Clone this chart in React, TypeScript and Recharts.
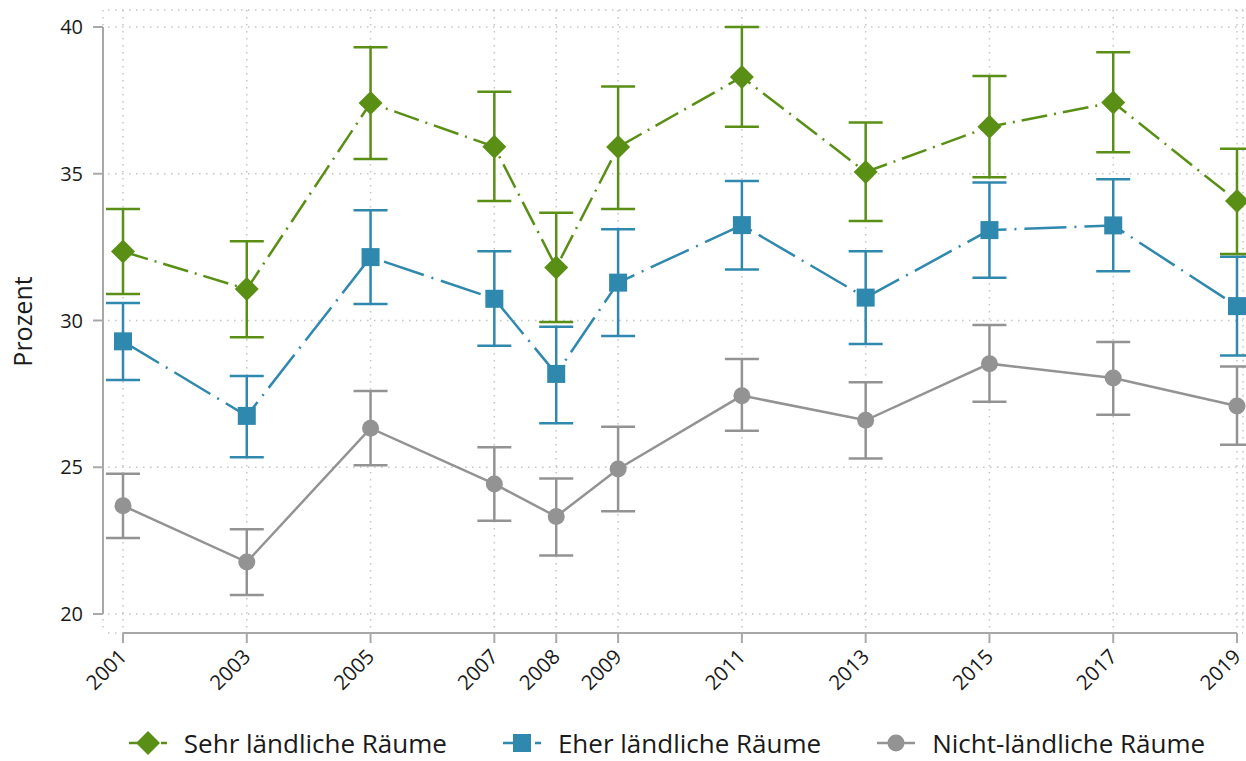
import React from "react";
import { CartesianGrid, ErrorBar, Line, LineChart, XAxis, YAxis } from "recharts";

const years = [2001, 2003, 2005, 2007, 2008, 2009, 2011, 2013, 2015, 2017, 2019];
const yTicks = [20, 25, 30, 35, 40];

// Sehr ländliche Räume
const sehr = [32.35, 31.07, 37.41, 35.92, 31.81, 35.91, 38.3, 35.06, 36.6, 37.43, 34.07];
const sehrLo = [30.9, 29.43, 35.5, 34.07, 29.95, 33.8, 36.6, 33.39, 34.88, 35.73, 32.27];
const sehrHi = [33.8, 32.7, 39.31, 37.79, 33.67, 37.97, 40.0, 36.75, 38.33, 39.14, 35.85];

// Eher ländliche Räume
const eher = [29.29, 26.75, 32.16, 30.74, 28.18, 31.29, 33.25, 30.78, 33.08, 33.24, 30.49];
const eherLo = [27.97, 25.34, 30.56, 29.14, 26.5, 29.47, 31.74, 29.2, 31.46, 31.68, 28.81];
const eherHi = [30.6, 28.11, 33.76, 32.36, 29.79, 33.11, 34.75, 32.36, 34.7, 34.81, 32.17];

// Nicht-ländliche Räume
const nicht = [23.69, 21.77, 26.33, 24.43, 23.32, 24.94, 27.44, 26.6, 28.53, 28.04, 27.09];
const nichtLo = [22.59, 20.65, 25.07, 23.18, 21.99, 23.5, 26.24, 25.3, 27.23, 26.79, 25.77];
const nichtHi = [24.78, 22.89, 27.6, 25.68, 24.62, 26.38, 28.69, 27.9, 29.85, 29.27, 28.43];

const GREEN = "#5a8f16";
const BLUE = "#2f88ae";
const GRAY = "#939393";
const AXIS = "#a8a8a8";
const FONT = "'Open Sans', sans-serif";

const data = years.map((year, i) => ({
  year,
  sehr: sehr[i],
  sehrErr: [sehr[i] - sehrLo[i], sehrHi[i] - sehr[i]],
  eher: eher[i],
  eherErr: [eher[i] - eherLo[i], eherHi[i] - eher[i]],
  nicht: nicht[i],
  nichtErr: [nicht[i] - nichtLo[i], nichtHi[i] - nicht[i]],
}));

const Diamond = ({ cx, cy, fill }: any) => (
  <polygon points={`${cx},${cy - 12} ${cx + 12},${cy} ${cx},${cy + 12} ${cx - 12},${cy}`} fill={fill} />
);
const Square = ({ cx, cy, fill }: any) => <rect x={cx - 9} y={cy - 9} width={18} height={18} fill={fill} />;
const Circle = ({ cx, cy, fill }: any) => <circle cx={cx} cy={cy} r={8.5} fill={fill} />;

const XTick = ({ x, y, payload }: any) => (
  <text
    x={x + 5}
    y={y + 15}
    transform={`rotate(-45, ${x + 5}, ${y + 15})`}
    textAnchor="end"
    fontSize={20.5}
    fontFamily={FONT}
    fill="#1a1a1a"
  >
    {payload.value}
  </text>
);

const YLabel = ({ viewBox }: any) => {
  const x = 22;
  const y = viewBox.y + viewBox.height / 2;
  return (
    <text
      x={x}
      y={y}
      transform={`rotate(-90, ${x}, ${y})`}
      textAnchor="middle"
      dominantBaseline="central"
      fontSize={25}
      fontFamily={FONT}
      fill="#1a1a1a"
    >
      Prozent
    </text>
  );
};

const legendItems = [
  { name: "Sehr ländliche Räume", color: GREEN, dash: true, shape: "diamond" },
  { name: "Eher ländliche Räume", color: BLUE, dash: true, shape: "square" },
  { name: "Nicht-ländliche Räume", color: GRAY, dash: false, shape: "circle" },
];

function LegendIcon({ color, dash, shape }: any) {
  return (
    <svg width={38} height={24}>
      <line x1={0} y1={12} x2={38} y2={12} stroke={color} strokeWidth={2.5} strokeDasharray={dash ? "22 4 2 4" : undefined} />
      {shape === "diamond" && <Diamond cx={19} cy={12} fill={color} />}
      {shape === "square" && <Square cx={19} cy={12} fill={color} />}
      {shape === "circle" && <Circle cx={19} cy={12} fill={color} />}
    </svg>
  );
}

export default function App() {
  return (
    <div
      style={{
        position: "absolute",
        top: 0,
        left: 0,
        width: 1246,
        height: 761,
        background: "#fff",
        fontFamily: FONT,
      }}
    >
      <LineChart width={1246} height={761} data={data} margin={{ top: 10, right: 3, left: 0, bottom: 68 }}>
        <CartesianGrid x={108} width={1135} stroke="#c4c4c4" strokeWidth={1.5} strokeDasharray="1.5 5.5" />
        <XAxis
          dataKey="year"
          type="number"
          domain={[2001, 2019]}
          ticks={years}
          interval={0}
          padding={{ left: 20, right: 6 }}
          height={60}
          axisLine={{ stroke: AXIS, strokeWidth: 2, strokeDasharray: "0 20 1114 1000" }}
          tickLine={{ stroke: AXIS, strokeWidth: 2 }}
          tickSize={10}
          tickMargin={0}
          tick={<XTick />}
        />
        <YAxis
          type="number"
          domain={[20, 40]}
          ticks={yTicks}
          width={103}
          padding={{ top: 17, bottom: 19 }}
          axisLine={{ stroke: AXIS, strokeWidth: 2, strokeDasharray: "0 17 587 1000" }}
          tickLine={{ stroke: AXIS, strokeWidth: 2 }}
          tickSize={10}
          tickMargin={10}
          tick={{ fontSize: 20, fill: "#1a1a1a", fontFamily: FONT }}
          label={<YLabel />}
        />
        <Line
          dataKey="nicht"
          stroke={GRAY}
          strokeWidth={2.5}
          isAnimationActive={false}
          dot={(p: any) => <Circle key={p.index} cx={p.cx} cy={p.cy} fill={GRAY} />}
          activeDot={false}
        >
          <ErrorBar dataKey="nichtErr" direction="y" width={17} stroke={GRAY} strokeWidth={2.5} isAnimationActive={false} />
        </Line>
        <Line
          dataKey="eher"
          stroke={BLUE}
          strokeWidth={2.5}
          strokeDasharray="42 8 2 8"
          isAnimationActive={false}
          dot={(p: any) => <Square key={p.index} cx={p.cx} cy={p.cy} fill={BLUE} />}
          activeDot={false}
        >
          <ErrorBar dataKey="eherErr" direction="y" width={17} stroke={BLUE} strokeWidth={2.5} isAnimationActive={false} />
        </Line>
        <Line
          dataKey="sehr"
          stroke={GREEN}
          strokeWidth={2.5}
          strokeDasharray="26 7 2 7"
          isAnimationActive={false}
          dot={(p: any) => <Diamond key={p.index} cx={p.cx} cy={p.cy} fill={GREEN} />}
          activeDot={false}
        >
          <ErrorBar dataKey="sehrErr" direction="y" width={17} stroke={GREEN} strokeWidth={2.5} isAnimationActive={false} />
        </Line>
      </LineChart>
      <div
        style={{
          position: "absolute",
          top: 731,
          left: 97,
          width: 1140,
          height: 24,
          display: "flex",
          justifyContent: "center",
          alignItems: "center",
          gap: 56,
          fontSize: 26,
          lineHeight: "24px",
          color: "#1a1a1a",
        }}
      >
        {legendItems.map((item) => (
          <div key={item.name} style={{ display: "flex", alignItems: "center", gap: 17, height: 24 }}>
            <LegendIcon color={item.color} dash={item.dash} shape={item.shape} />
            <span style={{ whiteSpace: "nowrap" }}>{item.name}</span>
          </div>
        ))}
      </div>
    </div>
  );
}
